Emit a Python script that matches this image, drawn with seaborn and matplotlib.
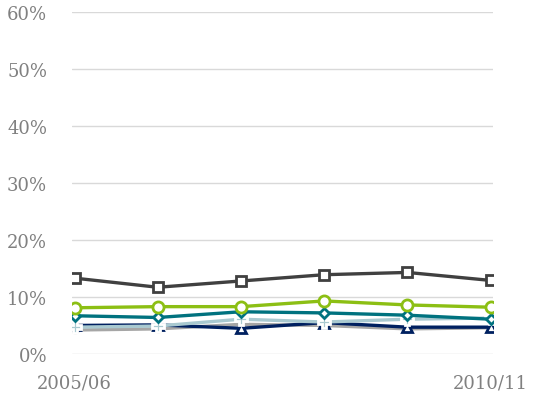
import matplotlib
matplotlib.use("Agg")
import matplotlib.pyplot as plt
import seaborn as sns
import pandas as pd

# data
years = ["2005/06", "2006/07", "2007/08", "2008/09", "2009/10", "2010/11"]
grey_line = [4.2, 4.4, 5.2, 5.0, 4.4, 4.6]
navy_tri = [5.0, 5.1, 4.5, 5.5, 4.7, 4.7]
lightblue_plus = [4.7, 4.9, 6.1, 5.6, 6.1, 6.3]
teal_diamond = [6.7, 6.4, 7.4, 7.2, 6.8, 6.1]
green_circle = [8.1, 8.3, 8.3, 9.3, 8.6, 8.2]
dark_square = [13.3, 11.7, 12.8, 13.9, 14.3, 12.9]

# name, values, colour, marker, marker size, face, edge
series = [
    ("grey", grey_line, "#a6a6a6", "o", 4, "#a6a6a6", "#a6a6a6"),
    ("navy", navy_tri, "#002060", "^", 7, "white", "#002060"),
    ("lightblue", lightblue_plus, "#a9c9d0", "P", 9, "#a9c9d0", "white"),
    ("teal", teal_diamond, "#00727f", "D", 5, "white", "#00727f"),
    ("green", green_circle, "#8cbf14", "o", 8, "white", "#8cbf14"),
    ("dark", dark_square, "#404040", "s", 7, "white", "#404040"),
]

sns.set_style("white")
plt.rcParams['font.family'] = ['DejaVu Serif']

fig = plt.figure(figsize=(5.46, 4.02), dpi=100)
ax = fig.add_axes([0.132, 0.117, 0.771, 0.851])

x = list(range(len(years)))
for name, vals, col, mk, ms, face, edge in series:
    df = pd.DataFrame({"x": x, "y": vals})
    sns.lineplot(data=df, x="x", y="y", ax=ax, color=col, linewidth=2.4,
                 marker=mk, markersize=ms, markerfacecolor=face,
                 markeredgecolor=edge, markeredgewidth=2.0, legend=False)

ax.set_xlim(-0.03, 5.03)
ax.set_ylim(0, 60)
ax.set_yticks(range(0, 61, 10))
ax.set_yticklabels([f"{v}%" for v in range(0, 61, 10)])
ax.set_xticks([0, 5])
ax.set_xticklabels([years[0], years[-1]])
ax.grid(axis="y", color="#d9d9d9", linewidth=1)
ax.set_axisbelow(True)
for s in ax.spines.values():
    s.set_visible(False)
ax.tick_params(axis="y", length=0, pad=18, labelsize=13, labelcolor="#808080")
ax.tick_params(axis="x", length=0, pad=14, labelsize=13, labelcolor="#808080")
ax.set_xlabel("")
ax.set_ylabel("")

fig.savefig("out.png", dpi=100)
